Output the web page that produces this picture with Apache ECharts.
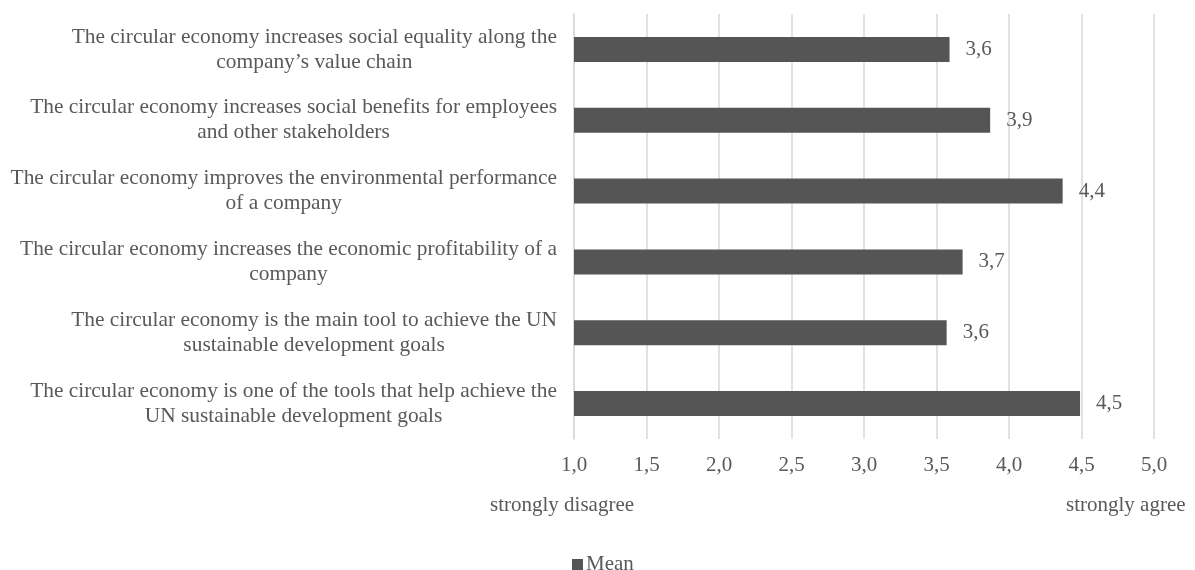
<!DOCTYPE html>
<html>
<head>
<meta charset="utf-8">
<title>Circular economy – mean agreement</title>
<script src="https://cdn.jsdelivr.net/npm/echarts@6/dist/echarts.min.js"></script>
<style>
  html, body { margin: 0; padding: 0; background: #ffffff; }
  #chart { width: 1195px; height: 570px; }
</style>
</head>
<body>
<div id="chart"></div>
<script>
// Survey statements (top to bottom) and their mean agreement on a 1–5 scale
const statements = [
  'The circular economy increases social equality along the\ncompany’s value chain',
  'The circular economy increases social benefits for employees\nand other stakeholders',
  'The circular economy improves the environmental performance\nof a company',
  'The circular economy increases the economic profitability of a\ncompany',
  'The circular economy is the main tool to achieve the UN\nsustainable development goals',
  'The circular economy is one of the tools that help achieve the\nUN sustainable development goals'
];
const meanValues = [3.59, 3.87, 4.37, 3.68, 3.57, 4.49];
const seriesName = 'Mean';
const scaleEnds = ['strongly disagree', 'strongly agree'];

const FONT = "'Liberation Serif', 'Times New Roman', serif";
const TEXT = '#595959';
const BAR = '#555555';
const GRID = '#d9d9d9';

const fmtComma = v => Number(v).toFixed(1).replace('.', ',');

const chart = echarts.init(document.getElementById('chart'), null, { renderer: 'canvas' });

chart.setOption({
  animation: false,
  backgroundColor: '#ffffff',
  textStyle: { fontFamily: FONT, color: TEXT },
  grid: { left: 574, right: 41, top: 14, bottom: 131 },
  xAxis: {
    type: 'value',
    min: 1,
    max: 5,
    interval: 0.5,
    axisLine: { show: false },
    axisTick: { show: false },
    splitLine: { show: true, lineStyle: { color: GRID, width: 1.5 } },
    axisLabel: {
      margin: 16,
      fontSize: 21,
      fontFamily: FONT,
      color: TEXT,
      formatter: fmtComma
    }
  },
  yAxis: {
    type: 'category',
    inverse: true,
    data: statements,
    axisLine: { show: true, lineStyle: { color: GRID, width: 1.5 } },
    axisTick: { show: false },
    axisLabel: {
      margin: 17,
      color: TEXT,
      formatter: s => s.split('\n').map(line => '{c|' + line + '}').join('\n'),
      rich: {
        c: {
          align: 'center',
          fontSize: 21.4,
          lineHeight: 25,
          fontFamily: FONT,
          color: TEXT
        }
      }
    }
  },
  legend: {
    data: [seriesName],
    left: 567,
    top: 549,
    itemWidth: 11,
    itemHeight: 11,
    itemGap: 10,
    icon: 'rect',
    textStyle: { fontSize: 21, fontFamily: FONT, color: TEXT, padding: [0, 0, 0, -2] }
  },
  series: [{
    name: seriesName,
    type: 'bar',
    data: meanValues,
    barWidth: 25,
    itemStyle: { color: BAR },
    label: {
      show: true,
      position: 'right',
      distance: 16,
      fontSize: 21,
      fontFamily: FONT,
      color: TEXT,
      formatter: p => fmtComma(p.value)
    }
  }],
  graphic: [
    {
      type: 'text',
      left: 490,
      top: 495,
      style: { text: scaleEnds[0], font: '21px ' + FONT, fill: TEXT }
    },
    {
      type: 'text',
      left: 1066,
      top: 495,
      style: { text: scaleEnds[1], font: '21px ' + FONT, fill: TEXT }
    }
  ]
});
</script>
</body>
</html>
